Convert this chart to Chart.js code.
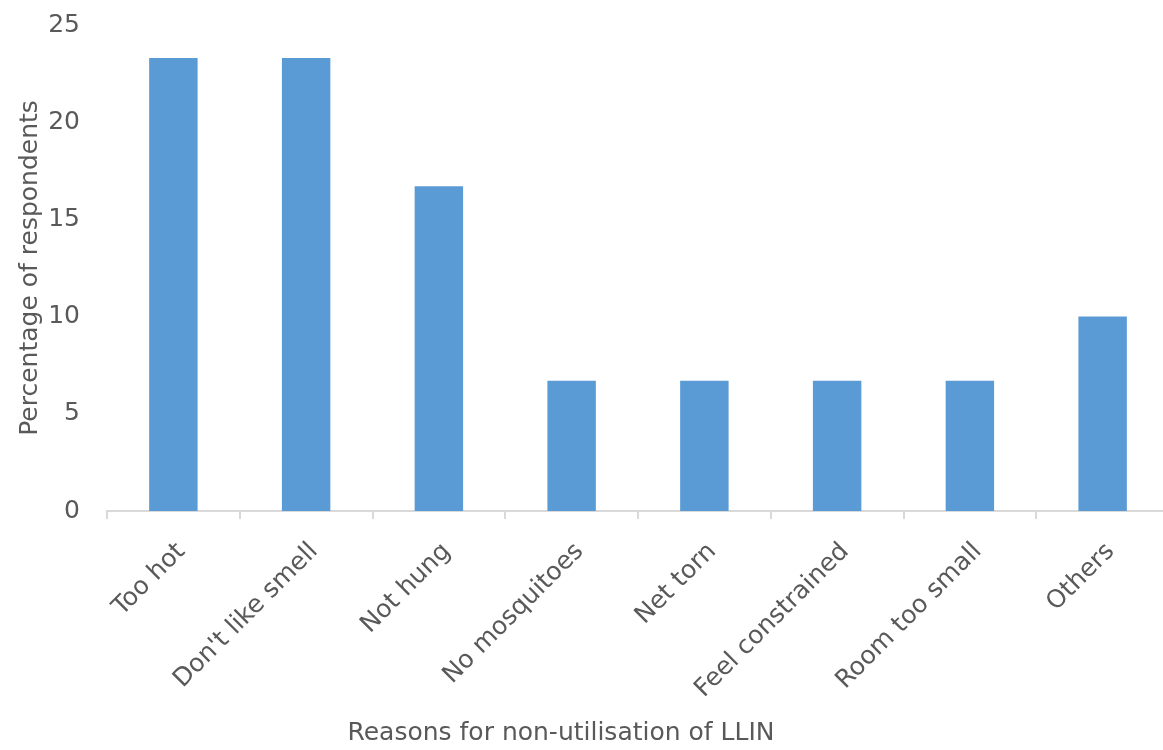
<!DOCTYPE html>
<html>
<head>
<meta charset="utf-8">
<script src="https://cdn.jsdelivr.net/npm/chart.js@4/dist/chart.umd.min.js"></script>
<style>
  html, body { margin: 0; padding: 0; background: #ffffff; overflow: hidden; }
  #wrap { width: 1163px; height: 750px; position: relative; overflow: hidden; }
  #chart { display: block; }
</style>
</head>
<body>
<div id="wrap"><canvas id="chart" width="1169" height="750"></canvas></div>
<script>
// Reasons given for not using long-lasting insecticidal nets (LLIN)
const categories = ["Too hot", "Don't like smell", "Not hung", "No mosquitoes", "Net torn", "Feel constrained", "Room too small", "Others"];
const percentages = [23.3, 23.3, 16.7, 6.7, 6.7, 6.7, 6.7, 10.0];
const yTicks = [0, 5, 10, 15, 20, 25];

const FONT = "'DejaVu Sans', Verdana, sans-serif";
const SIZE = 25;
const TEXT = '#595959';
const AXIS = '#d9d9d9';

// Draws the x-axis caption under the rotated category labels
const xCaption = {
  id: 'xCaption',
  afterDraw(chart) {
    const ctx = chart.ctx;
    ctx.save();
    ctx.font = SIZE + 'px ' + FONT;
    ctx.fillStyle = TEXT;
    ctx.textAlign = 'center';
    ctx.textBaseline = 'middle';
    ctx.fillText('Reasons for non-utilisation of LLIN', 561, 733);
    ctx.restore();
  }
};

new Chart(document.getElementById('chart'), {
  type: 'bar',
  data: {
    labels: categories,
    datasets: [{
      data: percentages,
      backgroundColor: '#5b9bd5',
      borderWidth: 0,
      categoryPercentage: 1.0,
      barPercentage: 0.365
    }]
  },
  options: {
    responsive: false,
    animation: false,
    layout: { padding: { top: 25, right: 0, left: 0, bottom: 0 } },
    plugins: { legend: { display: false }, tooltip: { enabled: false } },
    scales: {
      x: {
        grid: { display: true, drawOnChartArea: false, drawTicks: true, tickLength: 8, color: AXIS, lineWidth: 2, offset: true },
        border: { display: true, color: AXIS, width: 2 },
        ticks: {
          color: TEXT,
          font: { family: FONT, size: SIZE },
          minRotation: 45,
          maxRotation: 45,
          autoSkip: false,
          padding: 18,
          labelOffset: 8
        },
        afterFit(scale) { scale.height = 239; scale.paddingLeft = 0; scale.paddingRight = 0; }
      },
      y: {
        min: 0,
        max: 25,
        afterBuildTicks(scale) { scale.ticks = yTicks.map(v => ({ value: v })); },
        grid: { display: false, drawTicks: false },
        border: { display: false },
        ticks: {
          color: TEXT,
          font: { family: FONT, size: SIZE },
          padding: 27
        },
        title: {
          display: true,
          text: 'Percentage of respondents',
          color: TEXT,
          font: { family: FONT, size: SIZE },
          padding: { top: 15, bottom: 0 }
        },
        afterFit(scale) { scale.width = 107; scale.paddingTop = 0; scale.paddingBottom = 0; }
      }
    }
  },
  plugins: [xCaption]
});
</script>
</body>
</html>
